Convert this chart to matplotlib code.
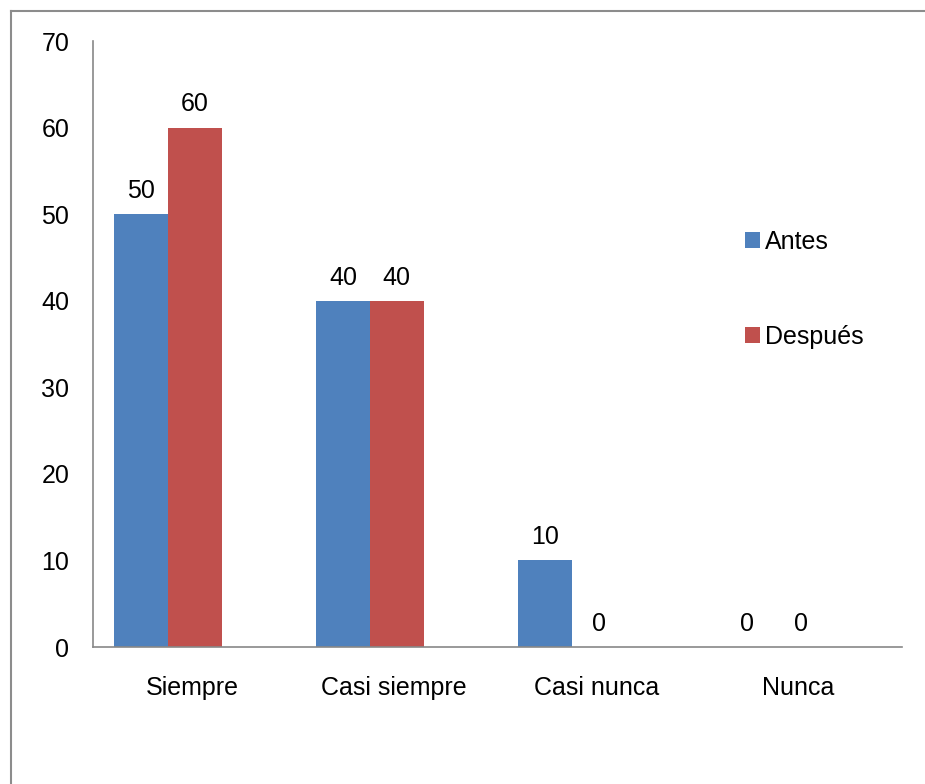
import numpy as np
import matplotlib
matplotlib.use('Agg')
import matplotlib.pyplot as plt
from matplotlib.lines import Line2D

plt.rcParams['font.family'] = ['Liberation Sans', 'DejaVu Sans']

categorias = ['Siempre', 'Casi siempre', 'Casi nunca', 'Nunca']
antes = [50, 40, 10, 0]
despues = [60, 40, 0, 0]
series = ['Antes', 'Después']
colores = ['#4F81BD', '#C0504D']

fig = plt.figure(figsize=(9.25, 7.84), dpi=100)
ax = fig.add_axes([0.1005, 0.1747, 0.8746, 0.773])

x = np.arange(len(categorias))
ancho = 0.267
b1 = ax.bar(x - ancho / 2, antes, ancho, color=colores[0], label=series[0])
b2 = ax.bar(x + ancho / 2, despues, ancho, color=colores[1], label=series[1])

# etiquetas de datos
for barras in (b1, b2):
    for b in barras:
        ax.annotate('{:d}'.format(int(b.get_height())),
                    (b.get_x() + b.get_width() / 2, b.get_height()),
                    xytext=(0, 8), textcoords='offset points',
                    ha='center', va='bottom', fontsize=18)

ax.set_xlim(-0.371, 3.634)
ax.set_ylim(0, 70)
ax.set_yticks(range(0, 71, 10))
ax.set_xticks(x + 0.12)
ax.set_xticklabels(categorias)
ax.tick_params(axis='both', length=0, labelsize=18)
ax.tick_params(axis='x', pad=20.5)
ax.tick_params(axis='y', pad=17)

for s in ['top', 'right']:
    ax.spines[s].set_visible(False)
for s in ['left', 'bottom']:
    ax.spines[s].set_color('#888888')
    ax.spines[s].set_linewidth(1.2)

ax.legend(loc='center left', bbox_to_anchor=(0.793, 0.59), frameon=False,
          fontsize=18, handlelength=0.6, handleheight=0.6, handletextpad=0.2,
          labelspacing=2.85, borderaxespad=0)

# borde del grafico (solo izquierda y arriba visibles)
fig.add_artist(Line2D([11 / 925, 11 / 925], [0, 1 - 11 / 784], transform=fig.transFigure,
                      color='#8c8c8c', lw=1.5))
fig.add_artist(Line2D([11 / 925, 1], [1 - 11 / 784, 1 - 11 / 784], transform=fig.transFigure,
                      color='#8c8c8c', lw=1.5))

fig.savefig('out.png', dpi=100)
